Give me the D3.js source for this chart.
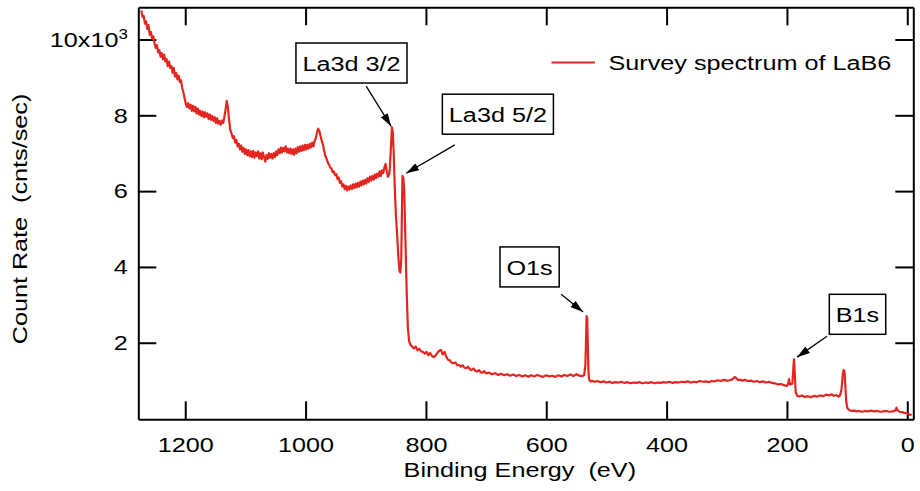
<!DOCTYPE html>
<html>
<head>
<meta charset="utf-8">
<script src="https://cdn.jsdelivr.net/npm/d3@7"></script>
<style>
  body { margin: 0; background: #fff; }
  text { font-family: "Liberation Sans", Arial, sans-serif; fill: #000; white-space: pre; }
</style>
</head>
<body>
<div id="chart"></div>
<script>
// Chart size (matches the window).
var chartWidth = 920;
var chartHeight = 491;

// Survey spectrum of LaB6: [binding energy (eV), count rate (x10^3 cnts/sec)].
// High energy first.
var spectrum = [
  // steep background at high binding energy
  [1273,10.77],[1271,10.60],[1269,10.62],[1267,10.42],[1265,10.48],[1263,10.28],[1261,10.38],
  [1259,10.12],[1257,10.20],[1255,10.02],[1253,10.08],[1251,9.90],[1249,9.78],[1247,9.85],
  [1245,9.66],[1243,9.72],[1241,9.55],[1239,9.64],[1237,9.48],[1235,9.60],[1233,9.42],
  [1231,9.48],[1229,9.30],[1227,9.42],[1225,9.25],[1223,9.30],[1221,9.12],[1219,9.25],
  [1217,9.02],[1215,9.12],[1213,8.95],[1211,9.05],[1209,8.88],[1207,8.92],[1205,8.72],
  [1203,8.60],[1201,8.45],[1199,8.30],[1197,8.22],[1195,8.32],[1193,8.18],[1191,8.28],
  [1189,8.12],[1187,8.25],[1185,8.10],[1183,8.22],[1181,8.05],[1179,8.18],[1177,8.02],
  [1175,8.12],[1173,7.98],[1171,8.10],[1169,7.95],[1167,8.08],[1165,7.96],[1163,8.05],
  [1161,7.90],[1159,8.02],[1157,7.88],[1155,7.98],[1153,7.85],[1151,7.95],[1149,7.80],
  [1147,7.92],[1145,7.78],[1143,7.85],[1141,7.75],[1139,7.86],[1137,7.80],[1135,7.95],
  // La MNN bump
  [1133,8.15],[1131,8.38],[1129,8.20],[1127,7.85],[1125,7.60],[1123,7.52],[1121,7.40],
  [1119,7.45],[1117,7.28],[1115,7.35],[1113,7.18],[1111,7.25],[1109,7.10],[1107,7.20],
  [1105,7.04],[1103,7.14],[1101,6.98],[1099,7.10],[1097,6.95],[1095,7.08],[1093,6.92],
  [1091,7.05],[1089,6.90],[1087,7.06],[1085,6.88],[1083,7.02],[1081,6.92],[1079,7.05],
  [1077,6.86],[1075,7.00],[1073,6.84],[1071,7.02],[1069,6.90],[1067,6.78],[1065,6.95],
  [1063,6.85],[1061,7.00],[1059,6.88],[1057,6.98],[1055,6.86],[1053,7.00],[1051,6.90],
  [1049,7.05],[1047,6.95],[1045,7.10],[1043,7.00],[1041,7.15],[1039,7.02],[1037,7.14],
  [1035,7.05],[1033,7.18],[1031,7.02],[1029,7.12],[1027,7.00],[1025,7.12],[1023,6.98],
  [1021,7.10],[1019,6.96],[1017,7.12],[1015,7.00],[1013,7.16],[1011,7.04],[1009,7.18],
  [1007,7.06],[1005,7.20],[1003,7.08],[1001,7.22],[999,7.10],[997,7.22],[995,7.12],
  [993,7.25],[991,7.15],[989,7.28],[987,7.18],[985,7.32],
  // O KLL bump
  [983,7.40],[981,7.55],[979,7.65],[977,7.58],[975,7.45],[973,7.32],[971,7.22],[969,7.05],
  [967,6.92],[965,6.85],[963,6.75],[961,6.70],[959,6.62],[957,6.60],[955,6.50],[953,6.52],
  [951,6.42],[949,6.45],[947,6.32],[945,6.36],[943,6.22],[941,6.26],[939,6.12],[937,6.18],
  [935,6.05],[933,6.14],[931,6.02],[929,6.12],[927,6.04],[925,6.15],[923,6.06],[921,6.18],
  [919,6.08],[917,6.20],[915,6.10],[913,6.22],[911,6.12],[909,6.25],[907,6.15],[905,6.28],
  [903,6.18],[901,6.30],[899,6.20],[897,6.34],[895,6.24],[893,6.38],[891,6.28],[889,6.40],
  [887,6.30],[885,6.44],[883,6.34],[881,6.46],[879,6.38],[877,6.52],[875,6.40],[873,6.55],
  [871,6.48],[869,6.62],[867,6.72],[865,6.52],[863,6.38],[861,6.45],
  // La 3d doublet
  [860,6.60],[858,7.20],[856.5,7.68],[855,7.55],[853.5,7.00],[852,6.20],
  [850,5.40],[848,4.90],[846,4.30],[844,3.90],[842.5,3.85],[841,4.20],[840,5.30],
  [839,6.40],[837.5,6.35],[836,6.00],[834.5,5.00],[833,4.00],[831.5,3.10],[830,2.40],
  [828,2.05],[826,1.95],[823,1.90],[820,1.85],[817,1.90],[814,1.80],[811,1.84],[808,1.77],
  [805,1.76],[802,1.71],[799,1.76],[796,1.67],[793,1.73],[790,1.65],[787,1.62],[784,1.66],
  [781,1.73],[778,1.79],[775,1.81],[772,1.69],[769,1.76],[766,1.62],[763,1.55],[760,1.53],
  [757,1.47],[754,1.46],[751,1.48],[748,1.41],[745,1.41],[742,1.37],[739,1.41],[736,1.34],
  [733,1.33],[730,1.37],[727,1.30],[724,1.28],[721,1.32],[718,1.26],[715,1.24],[712,1.28],
  [709,1.22],[706,1.21],[703,1.25],[700,1.19],[695,1.21],[690,1.17],[685,1.20],[680,1.15],
  [675,1.18],[670,1.14],[665,1.17],[660,1.13],[655,1.16],[650,1.12],[645,1.15],[640,1.11],
  [635,1.14],[630,1.10],[625,1.14],[620,1.11],[615,1.15],[610,1.12],[605,1.10],[600,1.14],
  [595,1.11],[590,1.13],[585,1.10],[580,1.14],[575,1.11],[570,1.15],[565,1.12],[560,1.16],
  [555,1.12],[550,1.17],[545,1.13],[540,1.12],[537,1.15],
  // O 1s
  [535,1.40],[534,2.00],[533,2.70],[532,2.65],[531,2.00],[530,1.30],[529,1.05],
  [527,0.98],[524,1.00],[520,0.97],[515,0.99],[510,0.96],[505,0.98],[500,0.95],[495,0.97],
  [490,0.94],[485,0.96],[480,0.95],[475,0.97],[470,0.94],[465,0.96],[460,0.93],[455,0.95],
  [450,0.94],[445,0.96],[440,0.93],[435,0.95],[430,0.94],[425,0.96],[420,0.93],[415,0.95],
  [410,0.94],[405,0.96],[400,0.95],[395,0.97],[390,0.94],[385,0.96],[380,0.95],[375,0.97],
  [370,0.96],[365,0.98],[360,0.95],[355,0.97],[350,0.96],[345,0.99],[340,0.97],[335,0.98],
  [330,0.96],[325,0.99],[320,0.98],[315,1.01],[310,0.99],[305,1.02],[300,1.00],[295,1.01],
  [290,1.04],[287,1.10],[284,1.06],[281,1.01],[278,1.03],[275,1.00],[270,1.02],[265,0.99],
  [260,1.00],[255,0.97],[250,0.99],[245,0.96],[240,0.98],[235,0.95],[230,0.97],[225,0.94],
  [220,0.93],[215,0.90],[210,0.91],[205,0.88],[200,0.86],[198,0.92],[196.5,1.04],[195,0.90],
  // B 1s
  [191,0.92],[189.5,1.30],[188.3,1.56],[187,1.20],[185.5,0.70],[183,0.60],[180,0.58],
  [175,0.61],[170,0.57],[165,0.59],[160,0.56],[155,0.60],[150,0.58],[145,0.61],[140,0.59],
  [135,0.63],[130,0.61],[126,0.64],[122,0.60],[118,0.62],[114,0.58],
  // La 4d
  [112,0.60],[109.5,0.75],[107.5,1.10],[106,1.28],[104.5,1.25],[103,0.90],[101.5,0.45],
  [99.5,0.27],[96,0.22],[92,0.20],[88,0.21],[84,0.19],[80,0.20],[75,0.18],[70,0.20],
  [65,0.19],[60,0.21],[55,0.19],[50,0.20],[45,0.18],[40,0.19],[35,0.20],[30,0.18],
  [25,0.19],[20,0.21],[18,0.29],[16.5,0.22],[13,0.18],[9,0.17],[5,0.15],[1,0.14],
  [-3,0.11],[-7,0.09]
];

// Axis ticks.
var energyTicks = [1200, 1000, 800, 600, 400, 200, 0];
var countTicks = [2, 4, 6, 8, 10];

// Peak labels: text, box centre, arrow tail and arrow tip (eV, x10^3 cnts/sec).
var peakLabels = ["La3d 3/2", "La3d 5/2", "O1s", "B1s"];
var labelBoxAt = [[923.7, 9.38], [680.4, 8.03], [627.7, 4.00], [82.7, 2.75]];
var arrowTail = [[899.3, 8.77], [752.0, 7.22], [575.3, 3.28], [133.4, 2.17]];
var arrowTip = [[857.8, 7.71], [832.8, 6.47], [538.8, 2.81], [183.3, 1.62]];

var legendLabel = "Survey spectrum of LaB6";
var lineColor = "#e3261f";

// Plot frame in pixels.
var frame = {left: 138.3, right: 913.3, top: 7.3, bottom: 419.3};

// The original's lettering is a little wider than Arial.
var stretch = 1.2;
var fontSize = "21px";

var svg = d3.select("#chart").append("svg")
    .attr("width", chartWidth)
    .attr("height", chartHeight);

// Binding energy runs backwards, as usual for XPS.
var x = d3.scaleLinear().domain([1278, -10]).range([frame.left, frame.right]);
var y = d3.scaleLinear().domain([-0.02, 10.85]).range([frame.bottom, frame.top]);

var tickLen = 18;

// Place a stretched text at (px, py).
function addText(parent, px, py, str) {
  return parent.append("text")
      .attr("transform", "translate(" + px + "," + py + ") scale(" + stretch + ",1)")
      .style("font-size", fontSize)
      .text(str);
}

// Bottom axis with labels, ticks pointing in.
svg.append("g")
    .attr("class", "axis")
    .attr("transform", "translate(0," + frame.bottom + ")")
    .call(d3.axisBottom(x).tickValues(energyTicks).tickSizeInner(-tickLen)
          .tickSizeOuter(0).tickPadding(18).tickFormat(d3.format("d")));

// Mirror axis on top, no labels.
svg.append("g")
    .attr("class", "axis")
    .attr("transform", "translate(0," + frame.top + ")")
    .call(d3.axisTop(x).tickValues(energyTicks).tickSizeInner(-tickLen)
          .tickSizeOuter(0).tickFormat(""));

// Left axis with labels.
var leftAxis = svg.append("g")
    .attr("class", "axis")
    .attr("transform", "translate(" + frame.left + ",0)")
    .call(d3.axisLeft(y).tickValues(countTicks).tickSizeInner(-tickLen)
          .tickSizeOuter(0).tickPadding(10.5 / stretch));

// Mirror axis on the right.
svg.append("g")
    .attr("class", "axis")
    .attr("transform", "translate(" + frame.right + ",0)")
    .call(d3.axisRight(y).tickValues(countTicks).tickSizeInner(-tickLen)
          .tickSizeOuter(0).tickFormat(""));

svg.selectAll(".axis path.domain").attr("stroke", "#000").attr("stroke-width", 2);
svg.selectAll(".axis .tick line").attr("stroke", "#000").attr("stroke-width", 2);
svg.selectAll(".axis .tick text")
    .attr("fill", "#000")
    .attr("transform", "scale(" + stretch + ",1)")
    .style("font-family", "'Liberation Sans', Arial, sans-serif")
    .style("font-size", fontSize);

// Top label gets the Igor style "10x10^3" exponent.
leftAxis.selectAll(".tick text")
    .filter(function(d) { return d === 10; })
    .text("10x10")
    .append("tspan")
      .attr("dy", "-0.55em")
      .style("font-size", "14px")
      .text("3");

// Axis titles.
addText(svg, (frame.left + frame.right) / 2 - 6, 477, "Binding Energy  (eV)")
    .attr("text-anchor", "middle");

svg.append("text")
    .attr("transform", "translate(27,219) rotate(-90) scale(" + stretch + ",1)")
    .attr("text-anchor", "middle")
    .style("font-size", fontSize)
    .text("Count Rate  (cnts/sec)");

// The spectrum itself.
var line = d3.line()
    .x(function(d) { return x(d[0]); })
    .y(function(d) { return y(d[1]); });

svg.append("path")
    .datum(spectrum)
    .attr("fill", "none")
    .attr("stroke", lineColor)
    .attr("stroke-width", 2.2)
    .attr("stroke-linejoin", "round")
    .attr("d", line);

// Arrow head marker for the peak labels.
svg.append("defs").append("marker")
    .attr("id", "arrowhead")
    .attr("viewBox", "0 0 13 8")
    .attr("refX", 13)
    .attr("refY", 4)
    .attr("markerWidth", 13)
    .attr("markerHeight", 8)
    .attr("markerUnits", "userSpaceOnUse")
    .attr("orient", "auto")
  .append("path")
    .attr("d", "M0,0L13,4L0,8Z")
    .attr("fill", "#000");

var tags = svg.selectAll("g.tag")
    .data(peakLabels)
    .enter().append("g")
    .attr("class", "tag");

tags.append("line")
    .attr("x1", function(d, i) { return x(arrowTail[i][0]); })
    .attr("y1", function(d, i) { return y(arrowTail[i][1]); })
    .attr("x2", function(d, i) { return x(arrowTip[i][0]); })
    .attr("y2", function(d, i) { return y(arrowTip[i][1]); })
    .attr("stroke", "#000")
    .attr("stroke-width", 1.3)
    .attr("marker-end", "url(#arrowhead)");

tags.each(function(d, i) {
  var g = d3.select(this);
  var cx = x(labelBoxAt[i][0]), cy = y(labelBoxAt[i][1]);
  var box = g.append("rect")
      .attr("fill", "#fff")
      .attr("stroke", "#000")
      .attr("stroke-width", 1.5);
  var label = addText(g, cx, cy, d)
      .attr("dy", "0.36em")
      .attr("text-anchor", "middle");
  // Size the box around its text.
  var w = label.node().getBBox().width * stretch;
  var padX = 6.5, boxH = 40;
  box.attr("x", cx - w / 2 - padX)
      .attr("y", cy - boxH / 2)
      .attr("width", w + 2 * padX)
      .attr("height", boxH);
});

// Legend.
var legend = svg.append("g").attr("class", "legend");
legend.append("line")
    .attr("x1", 551.5).attr("x2", 595)
    .attr("y1", 62.5).attr("y2", 62.5)
    .attr("stroke", lineColor)
    .attr("stroke-width", 2);
addText(legend, 608.5, 70, legendLabel);
</script>
</body>
</html>
